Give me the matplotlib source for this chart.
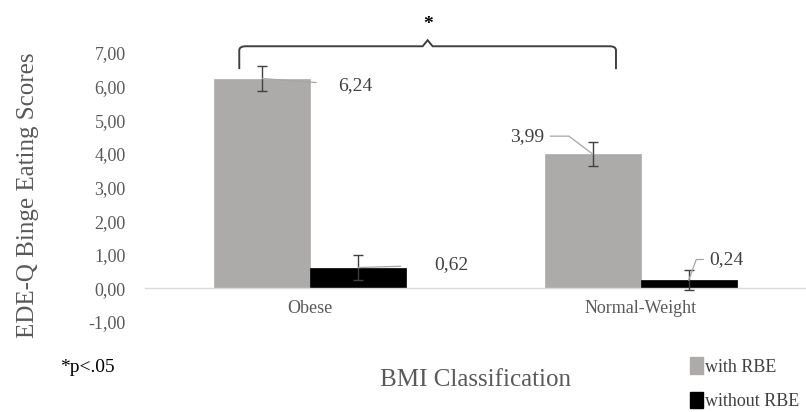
import matplotlib
matplotlib.use("Agg")
import matplotlib.pyplot as plt
import numpy as np
from matplotlib.path import Path
from matplotlib.patches import PathPatch, Patch

categories = ["Obese", "Normal-Weight"]
with_rbe = [6.24, 3.99]
without_rbe = [0.62, 0.24]
with_rbe_err = [0.38, 0.36]
without_rbe_err = [0.36, 0.30]
series_names = ["with RBE", "without RBE"]
yticks = [-1, 0, 1, 2, 3, 4, 5, 6, 7]

GRAY = "#ADAAAA"
TEXT = "#595959"
LABEL = "#404040"

plt.rcParams["font.family"] = ["Liberation Serif", "DejaVu Serif"]

fig = plt.figure(figsize=(8.06, 4.12), dpi=100)
ax = fig.add_axes([0.18, 0.2184, 0.82, 0.653])

# zero line acts as the category axis (set before tick labels, it resets ticks)
for s in ["top", "right", "left"]:
    ax.spines[s].set_visible(False)
ax.spines["bottom"].set_position(("data", 0))
ax.spines["bottom"].set_color("#D9D9D9")
ax.spines["bottom"].set_linewidth(1)

x = np.arange(len(categories))
w = 0.29
off = 0.145
ax.bar(x - off, with_rbe, w, color=GRAY, edgecolor=GRAY, linewidth=0.5, zorder=2)
ax.bar(x + off, without_rbe, w, color="black", edgecolor="black", linewidth=0.5, zorder=2)
ax.errorbar(x - off, with_rbe, yerr=with_rbe_err, fmt="none", ecolor=LABEL,
            elinewidth=1, capsize=3.5, capthick=1, zorder=3)
ax.errorbar(x + off, without_rbe, yerr=without_rbe_err, fmt="none", ecolor=LABEL,
            elinewidth=1, capsize=3.5, capthick=1, zorder=3)

ax.set_xlim(-0.5, 1.5)
ax.set_ylim(-1, 7)
ax.set_yticks(yticks)
ax.set_yticklabels([f"{v:.2f}".replace(".", ",") for v in yticks], fontsize=13, color=TEXT)
ax.set_xticks(x)
ax.set_xticklabels(categories, fontsize=13, color=TEXT)
ax.tick_params(axis="both", length=0)
ax.tick_params(axis="y", pad=14)
ax.tick_params(axis="x", pad=8)

ax.set_ylabel("EDE-Q Binge Eating Scores", fontsize=18, color=TEXT)
ax.yaxis.set_label_coords(-0.16, 0.472)

# data labels with leader lines: (x, y, label, offset in points, connection, shrinkA)
labels = [
    (x[0] - off, with_rbe[0], with_rbe[0], (67, -5), "arc3", 14),
    (x[0] + off, without_rbe[0], without_rbe[0], (67, 2), "arc3", 22),
    (x[1] - off, with_rbe[1], with_rbe[1], (-47, 13), "angle,angleA=0,angleB=143,rad=0", 2),
    (x[1] + off, without_rbe[1], without_rbe[1], (27, 15), "angle,angleA=0,angleB=70,rad=0", 2),
]
for lx, ly, val, offs, conn, shr in labels:
    ax.annotate(f"{val:.2f}".replace(".", ","), xy=(lx, ly), xytext=offs,
                textcoords="offset points", ha="center", va="center",
                fontsize=14, color=LABEL, annotation_clip=False,
                arrowprops=dict(arrowstyle="-", color="#A6A6A6", lw=0.9,
                                connectionstyle=conn, shrinkA=shr, shrinkB=0))

# significance bracket
x0 = x[0] - off - 0.07
x1 = x[1] - off + 0.07
xm = (x0 + x1) / 2
yb, yt, yp = 6.52, 7.2, 7.38
verts = [(x0, yb), (x0, yt - 0.12), (x0, yt), (x0 + 0.02, yt),
         (xm - 0.015, yt), (xm, yp), (xm + 0.015, yt),
         (x1 - 0.02, yt), (x1, yt), (x1, yt - 0.12), (x1, yb)]
codes = [Path.MOVETO, Path.LINETO, Path.CURVE3, Path.CURVE3,
         Path.LINETO, Path.LINETO, Path.LINETO,
         Path.LINETO, Path.CURVE3, Path.CURVE3, Path.LINETO]
ax.add_patch(PathPatch(Path(verts, codes), fill=False, edgecolor="#404040",
                       lw=1.4, clip_on=False, zorder=4))
ax.text(xm, 7.85, "*", ha="center", va="center", fontsize=14, color="black",
        fontweight="bold", clip_on=False)

fig.text(476 / 806, 1 - 380 / 412, "BMI Classification", ha="center", va="center",
         fontsize=18, color=TEXT)
fig.text(60 / 806, 1 - 367 / 412, "*p<.05", ha="left", va="center",
         fontsize=14, color="black")

handles = [Patch(facecolor=GRAY, edgecolor=GRAY), Patch(facecolor="black", edgecolor="black")]
leg = fig.legend(handles, series_names, loc="lower left", bbox_to_anchor=(683 / 806, -0.013),
                 frameon=False, fontsize=13, handlelength=0.7, handleheight=1.0,
                 handletextpad=0.1, labelspacing=0.9, borderaxespad=0)
for t in leg.get_texts():
    t.set_color(LABEL)

fig.savefig("out.png", dpi=100)
